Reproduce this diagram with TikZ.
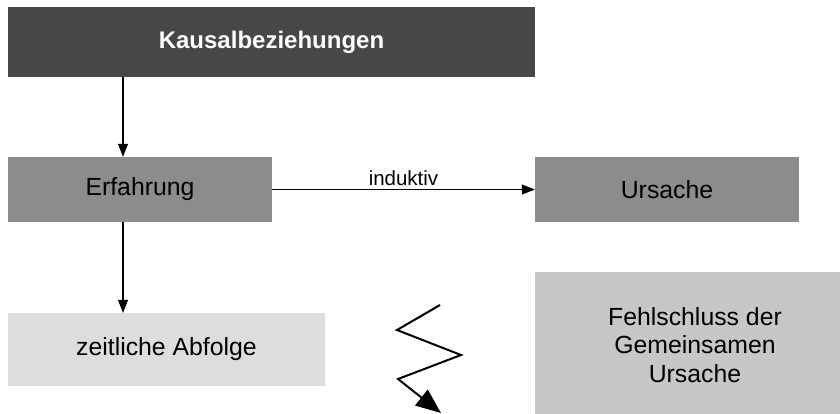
\documentclass[tikz,border=0pt]{standalone}
\usepackage{fontspec}
\setmainfont{Liberation Sans}
\usetikzlibrary{arrows.meta}
\definecolor{darkbox}{HTML}{474747}
\definecolor{midbox}{HTML}{8C8C8C}
\definecolor{lightbox}{HTML}{DDDDDD}
\definecolor{softbox}{HTML}{C7C7C7}
\tikzset{
  box/.style={rectangle, draw=none, inner sep=0pt, text=black,
    font=\fontsize{24.8}{28.5}\selectfont, align=center},
  link/.style={line width=1.1pt, -{Triangle[length=13pt,width=10pt]}},
  bolt/.style={line width=2pt, line join=miter, -{Triangle[length=25pt,width=20pt]}}
}
\begin{document}
\begin{tikzpicture}[x=1pt,y=-1pt]
\useasboundingbox (0,0) rectangle (840,413);
\clip (0,0) rectangle (840,413);

% boxes
\node[box, fill=darkbox, text=white, minimum width=527pt, minimum height=70pt,
      font=\fontsize{24}{28.5}\selectfont\bfseries] (kausal) at (271.5,42) {Kausalbeziehungen};
\node[box, fill=midbox, minimum width=264pt, minimum height=65pt] (erf) at (140,189.5) {Erfahrung};
\node[box, fill=midbox, minimum width=264pt, minimum height=65pt] (urs) at (667,189.5) {Ursache};
\node[box, fill=lightbox, minimum width=317pt, minimum height=73pt] (zeit) at (166.5,349.5) {zeitliche Abfolge};
\node[box, fill=softbox, minimum width=320pt, minimum height=146pt] (fehl) at (695,345)
      {Fehlschluss der\\Gemeinsamen\\Ursache};

% vertical connectors share one column
\coordinate (col) at (123,0);
\draw[link] (kausal.south -| col) -- (erf.north -| col);
\draw[link] (erf.south -| col) -- (zeit.north -| col);

% inductive step
\draw[link] (erf.east) -- node[above=3pt, font=\fontsize{20.5}{24}\selectfont, inner sep=0pt] {induktiv} (urs.west);

% lightning bolt
\coordinate (z0) at (440,305);
\coordinate (z1) at (397,330);
\coordinate (z2) at (461,355);
\coordinate (z3) at (398,379);
\coordinate (z4) at (441,413);
\draw[bolt] (z0) -- (z1) -- (z2) -- (z3) -- (z4);
\end{tikzpicture}
\end{document}
